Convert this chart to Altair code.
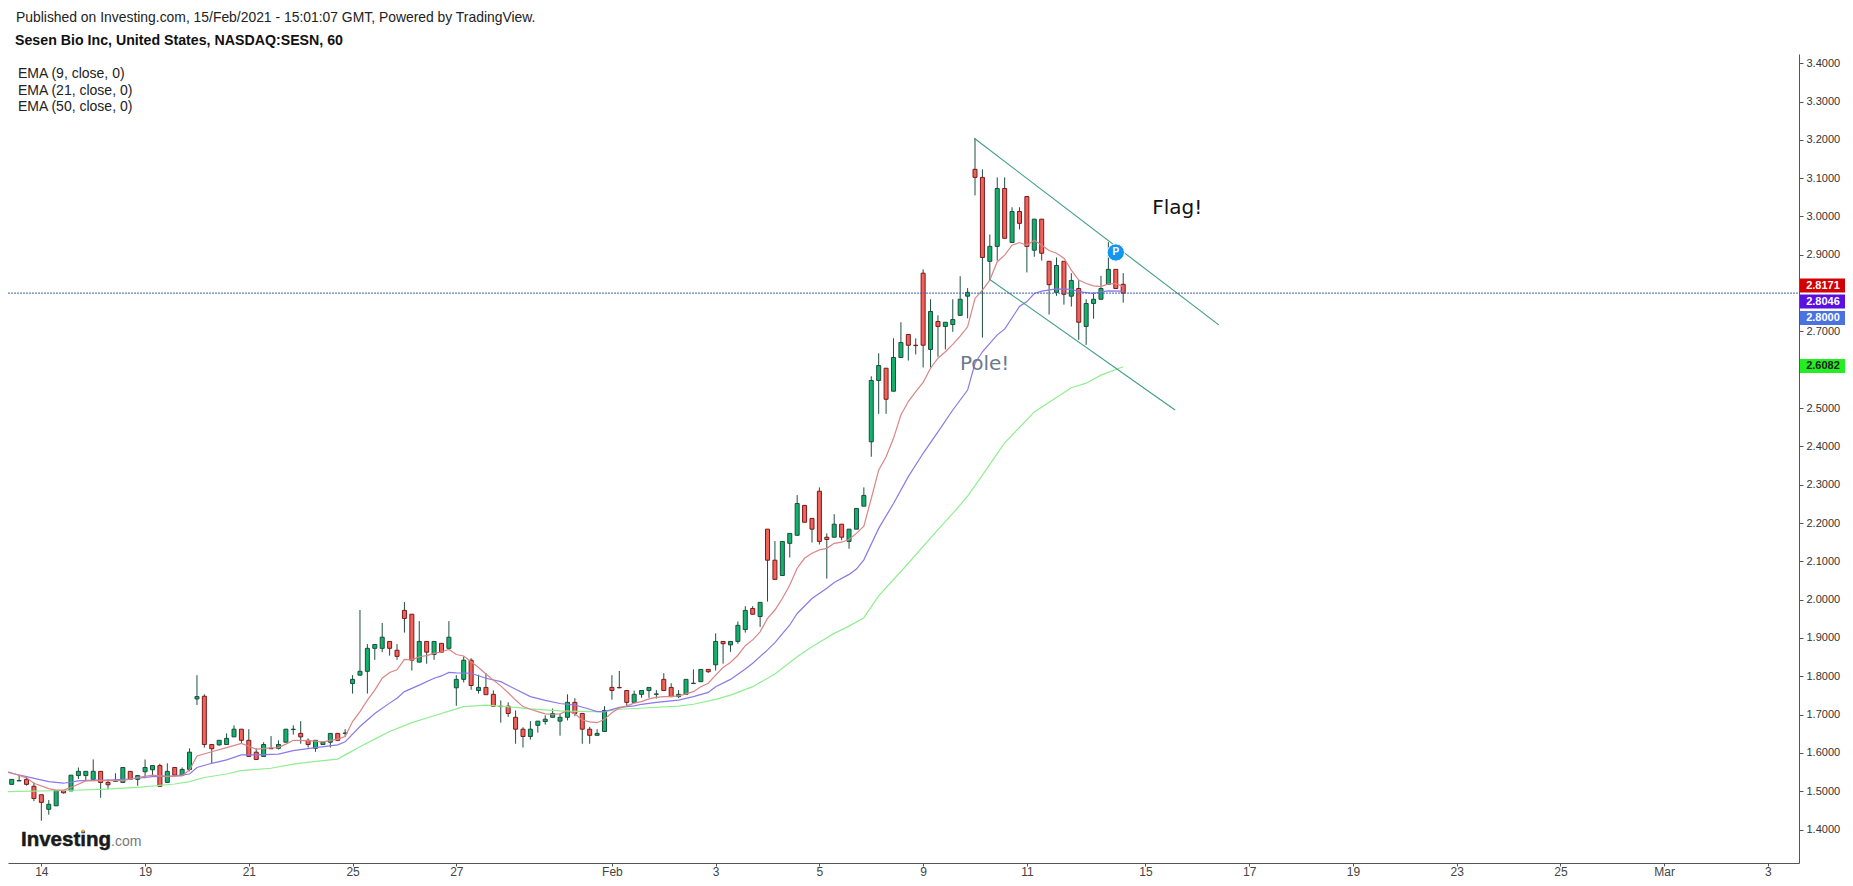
import altair as alt
import pandas as pd

opens = [
 1.518,1.527,1.531,1.513,1.491,1.453,1.462,1.502,1.501,1.541,
 1.541,1.531,1.552,1.523,1.526,1.523,1.552,1.531,1.551,1.556,
 1.567,1.523,1.562,1.542,1.557,1.741,1.748,1.622,1.621,1.622,
 1.642,1.662,1.633,1.602,1.591,1.612,1.612,1.628,1.661,1.651,
 1.633,1.612,1.622,1.628,1.651,1.651,1.781,1.803,1.813,1.873,
 1.873,1.891,1.868,1.972,1.962,1.837,1.891,1.857,1.886,1.873,
 1.770,1.792,1.842,1.763,1.771,1.753,1.722,1.722,1.693,1.662,
 1.643,1.672,1.682,1.693,1.683,1.693,1.732,1.703,1.662,1.646,
 1.656,1.771,1.771,1.763,1.732,1.753,1.763,1.753,1.792,1.771,
 1.747,1.753,1.781,1.786,1.818,1.830,1.891,1.882,1.891,1.922,
 1.977,1.956,2.184,2.103,2.063,2.147,2.168,2.246,2.212,2.283,
 2.163,2.163,2.197,2.152,2.184,2.244,2.412,2.572,2.604,2.544,
 2.632,2.692,2.664,2.852,2.653,2.726,2.713,2.718,2.742,2.792,
 3.123,3.102,2.883,2.922,3.073,2.932,3.013,3.052,2.912,2.993,
 2.883,2.802,2.883,2.792,2.812,2.713,2.773,2.784,2.823,2.862,
 2.823]
highs = [
 1.531,1.542,1.538,1.523,1.491,1.477,1.502,1.502,1.542,1.562,
 1.552,1.583,1.552,1.531,1.547,1.562,1.552,1.541,1.583,1.567,
 1.572,1.573,1.562,1.562,1.612,1.803,1.753,1.622,1.633,1.651,
 1.672,1.662,1.662,1.612,1.628,1.644,1.633,1.662,1.672,1.683,
 1.638,1.633,1.628,1.651,1.651,1.662,1.803,1.973,1.884,1.883,
 1.939,1.891,1.884,1.994,1.962,1.944,1.891,1.891,1.886,1.944,
 1.803,1.852,1.847,1.804,1.808,1.763,1.737,1.732,1.711,1.667,
 1.683,1.683,1.698,1.716,1.703,1.753,1.743,1.703,1.668,1.662,
 1.722,1.803,1.814,1.763,1.763,1.763,1.771,1.764,1.808,1.782,
 1.764,1.792,1.818,1.818,1.818,1.912,1.891,1.891,1.943,1.983,
 1.983,1.993,2.184,2.153,2.152,2.173,2.273,2.246,2.212,2.293,
 2.173,2.223,2.197,2.184,2.238,2.293,2.583,2.643,2.604,2.682,
 2.724,2.692,2.682,2.862,2.784,2.742,2.724,2.784,2.844,2.813,
 3.204,3.123,2.953,3.102,3.102,3.024,3.024,3.052,2.993,2.993,
 2.883,2.893,2.883,2.852,2.834,2.784,2.802,2.845,2.933,2.862,
 2.852]
lows = [
 1.518,1.527,1.515,1.474,1.423,1.439,1.462,1.494,1.501,1.532,
 1.528,1.531,1.483,1.505,1.526,1.523,1.531,1.514,1.534,1.542,
 1.513,1.523,1.542,1.542,1.552,1.725,1.614,1.573,1.619,1.622,
 1.642,1.624,1.591,1.583,1.591,1.611,1.609,1.628,1.648,1.624,
 1.614,1.603,1.622,1.614,1.632,1.643,1.755,1.803,1.755,1.843,
 1.863,1.854,1.843,1.914,1.815,1.837,1.833,1.843,1.863,1.873,
 1.723,1.784,1.765,1.755,1.752,1.722,1.679,1.694,1.624,1.614,
 1.635,1.653,1.674,1.693,1.645,1.685,1.696,1.624,1.624,1.646,
 1.656,1.739,1.769,1.723,1.732,1.744,1.744,1.742,1.763,1.747,
 1.743,1.753,1.781,1.786,1.809,1.815,1.833,1.864,1.885,1.914,
 1.962,1.929,1.995,2.053,2.063,2.110,2.168,2.202,2.149,2.144,
 2.055,2.163,2.155,2.133,2.184,2.244,2.373,2.485,2.485,2.544,
 2.632,2.624,2.640,2.606,2.606,2.634,2.653,2.699,2.742,2.734,
 3.055,2.684,2.836,2.885,2.943,2.932,2.966,2.854,2.895,2.885,
 2.744,2.793,2.770,2.765,2.678,2.665,2.733,2.784,2.823,2.812,
 2.775]
closes = [
 1.531,1.528,1.518,1.481,1.471,1.466,1.502,1.496,1.542,1.552,
 1.552,1.552,1.523,1.517,1.527,1.562,1.531,1.541,1.562,1.567,
 1.513,1.552,1.542,1.557,1.602,1.747,1.622,1.611,1.633,1.638,
 1.662,1.633,1.591,1.583,1.622,1.611,1.622,1.662,1.662,1.642,
 1.622,1.633,1.628,1.651,1.633,1.652,1.792,1.813,1.873,1.883,
 1.902,1.873,1.852,1.951,1.842,1.891,1.863,1.891,1.863,1.902,
 1.792,1.842,1.776,1.771,1.752,1.722,1.721,1.703,1.662,1.643,
 1.662,1.683,1.688,1.703,1.693,1.732,1.703,1.662,1.646,1.651,
 1.711,1.763,1.770,1.732,1.753,1.763,1.771,1.754,1.763,1.747,
 1.753,1.792,1.782,1.818,1.812,1.891,1.885,1.891,1.933,1.972,
 1.962,1.993,2.103,2.053,2.152,2.173,2.251,2.202,2.184,2.152,
 2.157,2.197,2.163,2.184,2.238,2.272,2.572,2.611,2.523,2.632,
 2.671,2.664,2.663,2.664,2.752,2.713,2.724,2.731,2.784,2.802,
 3.102,2.893,2.922,3.073,2.943,3.013,2.982,2.922,2.993,2.904,
 2.822,2.872,2.797,2.833,2.724,2.773,2.784,2.812,2.862,2.812,
 2.800]

ema9 = [(-0.5,1.551),(2,1.535),(3,1.521),(5,1.507),(6,1.503),(7,1.503),(8,1.510),(10,1.527),(12,1.528),(15,1.528),
 (17,1.536),(19,1.542),(21,1.538),(23,1.540),(24,1.556),(25,1.592),(27,1.603),(29,1.614),(31,1.625),(33,1.610),
 (35,1.613),(36,1.614),(37,1.623),(38,1.633),(40,1.632),(42,1.629),(44,1.636),(45,1.643),(46,1.682),(47,1.708),
 (48,1.738),(49,1.764),(50,1.795),(51,1.810),(52,1.817),(53,1.844),(54,1.843),(55,1.851),(56,1.854),(57,1.860),
 (58,1.864),(59,1.870),(60,1.857),(61,1.853),(62,1.838),(63,1.823),(64,1.806),(65,1.790),(66,1.775),(67,1.757),
 (68,1.738),(69,1.721),(70,1.714),(71,1.708),(72,1.702),(73,1.701),(74,1.702),(75,1.710),(76,1.702),(77,1.686),
 (78,1.681),(79,1.679),(80,1.688),(81,1.705),(82,1.717),(83,1.723),(84,1.730),(85,1.734),(86,1.741),(87,1.745),
 (88,1.747),(89,1.747),(90,1.749),(91,1.754),(92,1.760),(93,1.773),(94,1.782),(95,1.803),(96,1.823),(97,1.836),
 (98,1.855),(99,1.880),(100,1.895),(101,1.916),(102,1.951),(103,1.973),(104,2.003),(105,2.038),(106,2.082),(107,2.108),
 (108,2.121),(109,2.130),(110,2.134),(111,2.147),(112,2.150),(113,2.157),(114,2.173),(115,2.192),(116,2.264),(117,2.338),
 (118,2.373),(119,2.421),(120,2.482),(121,2.517),(122,2.543),(123,2.567),(124,2.604),(125,2.630),(126,2.647),(127,2.666),
 (128,2.688),(129,2.712),(130,2.786),(131,2.808),(132,2.834),(133,2.882),(134,2.899),(135,2.925),(136,2.932),(137,2.925),
 (138,2.938),(139,2.925),(140,2.911),(141,2.904),(142,2.891),(143,2.860),(144,2.834),(145,2.825),(146,2.819),(147,2.817),
 (148,2.824),(149,2.825),(150,2.817)]
ema21 = [(-0.5,1.549),(2,1.538),(5,1.525),(7,1.521),(9,1.527),(11,1.529),(13,1.529),(16,1.532),(19,1.538),(22,1.540),
 (24,1.545),(25,1.562),(27,1.573),(29,1.582),(31,1.595),(33,1.595),(36,1.597),(38,1.606),(41,1.614),(44,1.621),
 (45,1.629),(47,1.669),(49,1.703),(51,1.730),(52,1.743),(53,1.760),(55,1.777),(57,1.795),(58,1.801),(59,1.810),
 (60,1.809),(62,1.808),(64,1.795),(66,1.786),(68,1.766),(70,1.747),(72,1.737),(74,1.729),(76,1.725),(78,1.714),
 (79,1.708),(80,1.708),(82,1.719),(84,1.723),(85,1.727),(87,1.732),(90,1.738),(92,1.747),(94,1.758),(95,1.773),
 (97,1.792),(99,1.819),(100,1.834),(102,1.869),(103,1.888),(105,1.934),(106,1.964),(108,2.003),(110,2.030),(111,2.045),
 (113,2.066),(114,2.080),(115,2.104),(117,2.186),(119,2.251),(121,2.321),(123,2.382),(125,2.438),(127,2.495),(129,2.547),
 (130,2.617),(131,2.647),(133,2.691),(134,2.706),(136,2.765),(137,2.778),(138,2.799),(139,2.805),(141,2.811),(143,2.810),
 (144,2.804),(146,2.799),(147,2.803),(148,2.806),(150,2.805)]
ema50 = [(-0.5,1.499),(7,1.502),(12,1.505),(17,1.510),(22,1.519),(24,1.525),(26,1.536),(29,1.545),(31,1.554),(35,1.560),
 (38,1.571),(41,1.578),(44,1.584),(45,1.595),(47,1.616),(49,1.636),(51,1.656),(54,1.679),(57,1.697),(59,1.709),
 (61,1.721),(64,1.725),(68,1.719),(70,1.715),(74,1.710),(78,1.708),(80,1.708),(82,1.714),(86,1.718),(90,1.722),
 (92,1.727),(95,1.740),(97,1.751),(100,1.773),(103,1.806),(106,1.851),(108,1.877),(111,1.912),(113,1.931),(115,1.953),
 (117,2.010),(121,2.095),(125,2.183),(127,2.225),(129,2.270),(131,2.325),(134,2.409),(138,2.490),(143,2.553),(145,2.565),
 (147,2.586),(150,2.608)]

flag_top = [(129.9,3.204),(162.9,2.717)]
flag_bottom = [(131.9,2.837),(157,2.495)]

tick_idx = [4,18,32,46,60,81,95,109,123,137,153,167,181,195,209,223,237]
tick_labels = ["14","19","21","25","27","Feb","3","5","9","11","15","17","19","23","25","Mar","3"]
price_ticks = [1.4,1.5,1.6,1.7,1.8,1.9,2.0,2.1,2.2,2.3,2.4,2.5,2.7,2.9,3.0,3.1,3.2,3.3,3.4]
last_price = 2.80

FONT = "Liberation Sans"
LEFT, TOP, PW, PH = 8, 54, 1791, 809
px = lambda v: alt.value(v - LEFT)
py = lambda v: alt.value(v - TOP)

xscale = alt.Scale(domain=[-0.5, 241.2], nice=False, zero=False, padding=0)
yscale = alt.Scale(domain=[1.3128, 3.424], nice=False, zero=False, padding=0)

df = pd.DataFrame({"i": range(len(opens)), "o": opens, "h": highs, "l": lows, "c": closes})
df["fill"] = ["#10b26c" if c >= o else "#f0625a" for o, c in zip(opens, closes)]
df["edge"] = ["#1b4d3c" if c >= o else "#7a1a1a" for o, c in zip(opens, closes)]

label_expr = "{}[indexof({}, datum.value)]".format(str(tick_labels), str(tick_idx))
xaxis = alt.Axis(values=tick_idx, labelExpr=label_expr, title=None, grid=False, domainColor="#555555",
                 tickColor="#555555", tickSize=3, labelFont=FONT, labelFontSize=12, labelColor="#444444",
                 labelPadding=0, labelOverlap=False)
yaxis = alt.Axis(orient="right", values=price_ticks, format=".4f", title=None, grid=False, domainColor="#555555",
                 tickColor="#555555", tickSize=4, labelFont=FONT, labelFontSize=11, labelColor="#333333",
                 labelPadding=3, labelOverlap=False)

X = alt.X("i:Q", scale=xscale, axis=xaxis)
Y = alt.Y("v:Q", scale=yscale, axis=yaxis)

wicks = alt.Chart(df).mark_rule(color="#1f4f40", strokeWidth=1).encode(
    x=X, y=alt.Y("l:Q", scale=yscale, axis=yaxis), y2="h:Q")
bodies = alt.Chart(df).mark_bar(size=4, strokeWidth=1).encode(
    x=X, y=alt.Y("o:Q", scale=yscale, axis=yaxis), y2="c:Q",
    fill=alt.Fill("fill:N", scale=None), stroke=alt.Stroke("edge:N", scale=None))

def line(points, color, width=1.0, opacity=1.0, dash=None):
    d = pd.DataFrame(points, columns=["i", "v"])
    kw = {"strokeDash": dash} if dash else {}
    return alt.Chart(d).mark_line(color=color, strokeWidth=width, opacity=opacity, **kw).encode(x=X, y=Y)

layers = [wicks, bodies,
          line(ema50, "#90ee90", 1.2), line(ema21, "#8c78e8", 1.2), line(ema9, "#d98686", 1.2),
          line(flag_top, "#3f9d84", 1.1), line(flag_bottom, "#3f9d84", 1.1),
          line([(-0.5, last_price), (241.2, last_price)], "#3f62a8", 1.0, dash=[2, 1])]

def note(text, idx, price, size, color, font="DejaVu Sans", weight="normal"):
    d = pd.DataFrame({"i": [idx], "v": [price], "t": [text]})
    return alt.Chart(d).mark_text(fontSize=size, color=color, font=font, fontWeight=weight).encode(x=X, y=Y, text="t:N")

layers += [note("Flag!", 157.3, 3.022, 20, "#111111"), note("Pole!", 131.3, 2.615, 20, "#6b7a8c")]

pin = pd.DataFrame({"i": [149], "v": [2.906]})
layers.append(alt.Chart(pin).mark_point(filled=True, shape="circle", size=300, color="#1296f0", opacity=1,
                                        stroke="white", strokeWidth=1).encode(x=X, y=Y))
layers.append(note("P", 149, 2.906, 10, "white", font=FONT, weight="bold"))

def page_text(text, x, y, size=14, weight="normal", color="#222222", align="left", font=FONT, **kw):
    return alt.Chart(pd.DataFrame({"t": [text]})).mark_text(
        fontSize=size, fontWeight=weight, color=color, align=align, baseline="middle", font=font, **kw
    ).encode(x=px(x), y=py(y), text="t:N")

layers += [
    page_text("Published on Investing.com, 15/Feb/2021 - 15:01:07 GMT, Powered by TradingView.", 16, 17.5, size=13.9),
    page_text("Sesen Bio Inc, United States, NASDAQ:SESN, 60", 15, 40.5, size=14.2, weight="bold", color="#111111"),
    page_text("EMA (9, close, 0)", 18, 73.5),
    page_text("EMA (21, close, 0)", 18, 90.5),
    page_text("EMA (50, close, 0)", 18, 107),
    page_text("Investing", 21, 840, size=20.5, weight="bold", color="#1a1a1a", stroke="#1a1a1a", strokeWidth=0.5),
    page_text(".com", 111, 842, size=14, color="#777777"),
]
layers.append(alt.Chart(pd.DataFrame({"t": ["dot"]})).mark_point(filled=True, shape="circle", size=10,
              color="#f0a030", opacity=1).encode(x=px(83), y=py(831)))

price_boxes = [("2.8171", 285.5, "#d40000", "white"), ("2.8046", 301.5, "#5a10e0", "white"),
               ("2.8000", 318, "#4a72e0", "white"), ("2.6082", 366, "#22ee22", "#222222")]
for label, y, bg, fg in price_boxes:
    layers.append(alt.Chart(pd.DataFrame({"t": [label]})).mark_rect(color=bg).encode(
        x=px(1800), x2=px(1846), y=py(y - 7), y2=py(y + 7)))
    layers.append(page_text(label, 1823, y, size=11, weight="bold", color=fg, align="center"))

chart = alt.layer(*layers).properties(
    width=PW, height=PH,
    autosize=alt.AutoSizeParams(type="none"),
    padding={"left": 0, "top": TOP - 8, "right": 46, "bottom": 17},
    background="white",
).configure_view(stroke=None)

chart.save("out.html", embed_options={"renderer": "svg", "actions": False})
